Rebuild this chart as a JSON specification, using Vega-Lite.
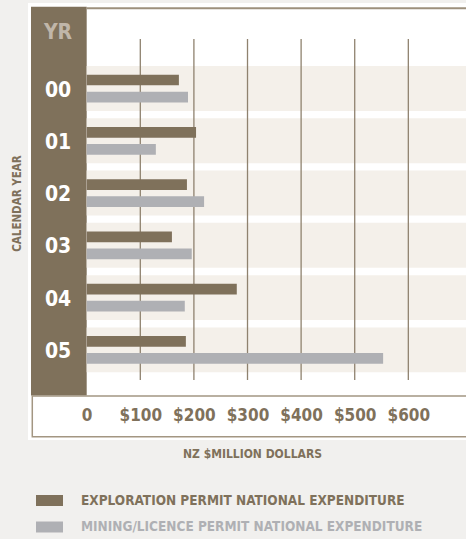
{
  "$schema": "https://vega.github.io/schema/vega-lite/v6.json",
  "autosize": {"type": "none"},
  "padding": {"left": 28, "top": 3, "right": 0, "bottom": 99},
  "width": 438,
  "height": 437,
  "background": "#f1f0ee",
  "config": {"font": "DejaVu Sans Condensed, DejaVu Sans, sans-serif", "view": {"stroke": null}},
  "view": {"fill": "white", "stroke": null},
  "datasets": {
    "expenditure": [
      {"year": "00", "series": "EXPLORATION PERMIT NATIONAL EXPENDITURE", "value": 172},
      {"year": "00", "series": "MINING/LICENCE PERMIT NATIONAL EXPENDITURE", "value": 189},
      {"year": "01", "series": "EXPLORATION PERMIT NATIONAL EXPENDITURE", "value": 204},
      {"year": "01", "series": "MINING/LICENCE PERMIT NATIONAL EXPENDITURE", "value": 129},
      {"year": "02", "series": "EXPLORATION PERMIT NATIONAL EXPENDITURE", "value": 187},
      {"year": "02", "series": "MINING/LICENCE PERMIT NATIONAL EXPENDITURE", "value": 219},
      {"year": "03", "series": "EXPLORATION PERMIT NATIONAL EXPENDITURE", "value": 159},
      {"year": "03", "series": "MINING/LICENCE PERMIT NATIONAL EXPENDITURE", "value": 196},
      {"year": "04", "series": "EXPLORATION PERMIT NATIONAL EXPENDITURE", "value": 280},
      {"year": "04", "series": "MINING/LICENCE PERMIT NATIONAL EXPENDITURE", "value": 183},
      {"year": "05", "series": "EXPLORATION PERMIT NATIONAL EXPENDITURE", "value": 185},
      {"year": "05", "series": "MINING/LICENCE PERMIT NATIONAL EXPENDITURE", "value": 553}
    ],
    "years": [{"year": "00"}, {"year": "01"}, {"year": "02"}, {"year": "03"}, {"year": "04"}, {"year": "05"}],
    "gridValues": [{"v": 100}, {"v": 200}, {"v": 300}, {"v": 400}, {"v": 500}, {"v": 600}],
    "single": [{}]
  },
  "layer": [
    {
      "data": {"name": "single"},
      "mark": {"type": "rect", "color": "#7f715b"},
      "encoding": {
        "x": {"datum": -103.9, "type": "quantitative", "scale": {"domain": [-109.5, 707.6], "nice": false, "zero": false}},
        "x2": {"datum": 0},
        "y": {"datum": "YR", "type": "nominal", "bandPosition": -0.065, "scale": {"type": "band", "domain": ["YR", "00", "01", "02", "03", "04", "05"], "paddingInner": 0, "paddingOuter": 0.68, "align": 0.1}},
        "y2": {"datum": "05", "bandPosition": 1.374}
      }
    },
    {
      "data": {"name": "single"},
      "mark": {"type": "rect", "fill": "white", "stroke": "#a39682", "strokeWidth": 1.5},
      "encoding": {
        "x": {"datum": -101.5, "type": "quantitative"},
        "x2": {"datum": 712},
        "y": {"datum": "05", "type": "nominal", "bandPosition": 1.383},
        "y2": {"datum": "05", "bandPosition": 2.161}
      }
    },
    {
      "data": {"name": "single"},
      "mark": {"type": "rule", "color": "#9d907d", "strokeWidth": 2},
      "encoding": {
        "x": {"datum": 0, "type": "quantitative"},
        "x2": {"datum": 707.6},
        "y": {"datum": "YR", "type": "nominal", "bandPosition": -0.036}
      }
    },
    {
      "data": {"name": "years"},
      "mark": {"type": "bar", "color": "#f4f0ea", "height": {"band": 0.86}},
      "encoding": {
        "x": {"datum": 0, "type": "quantitative"},
        "x2": {"datum": 707.6},
        "y": {"field": "year", "type": "nominal"}
      }
    },
    {
      "data": {"name": "gridValues"},
      "mark": {"type": "rule", "color": "#8f826f", "strokeWidth": 1.3},
      "encoding": {
        "x": {"field": "v", "type": "quantitative"},
        "y": {"datum": "YR", "type": "nominal", "bandPosition": 0.553},
        "y2": {"datum": "05", "bandPosition": 1.077}
      }
    },
    {
      "data": {"name": "expenditure"},
      "mark": {"type": "bar"},
      "encoding": {
        "x": {
          "field": "value", "type": "quantitative",
          "scale": {"domain": [-109.5, 707.6], "nice": false, "zero": false},
          "axis": {
            "title": "NZ $MILLION DOLLARS", "zindex": 2,
            "values": [0, 100, 200, 300, 400, 500, 600],
            "labelExpr": "datum.value == 0 ? '0' : '$' + datum.value",
            "domain": false, "ticks": false, "tickSize": 0, "grid": false,
            "labelPadding": -25, "labelBaseline": "middle",
            "labelFontSize": 17, "labelFontWeight": "bold", "labelColor": "#7f715b",
            "labelFlush": false, "labelOverlap": false,
            "titleFontSize": 12, "titleFontWeight": "bold", "titleColor": "#7f715b",
            "titleX": 224, "titleY": 13, "titleBaseline": "middle", "titleAlign": "center"
          }
        },
        "y": {
          "field": "year", "type": "nominal",
          "scale": {"type": "band", "domain": ["YR", "00", "01", "02", "03", "04", "05"], "paddingInner": 0, "paddingOuter": 0.68, "align": 0.1},
          "axis": {
            "title": "CALENDAR YEAR", "zindex": 2, "labels": false, "ticks": false, "domain": false, "grid": false,
            "titleFontSize": 11.5, "titleFontWeight": "bold", "titleColor": "#7f715b",
            "titleX": -11, "titleY": 200, "titleBaseline": "middle", "titleAlign": "center", "titleAngle": -90
          }
        },
        "yOffset": {"field": "series", "type": "nominal", "scale": {"type": "band", "paddingInner": 0.37, "paddingOuter": 0.72}},
        "color": {
          "field": "series", "type": "nominal",
          "scale": {"domain": ["EXPLORATION PERMIT NATIONAL EXPENDITURE", "MINING/LICENCE PERMIT NATIONAL EXPENDITURE"], "range": ["#7f715b", "#afb0b4"]},
          "legend": {
            "orient": "none", "legendX": 8, "legendY": 484, "title": null, "padding": 0,
            "symbolType": "M-1,-0.407H1V0.407H-1Z", "symbolSize": 729, "symbolStrokeWidth": 0, "symbolOpacity": 1,
            "labelFontSize": 13.5, "labelFontWeight": "bold",
            "labelOffset": 18, "labelLimit": 0, "rowPadding": 6.5,
            "encode": {"labels": {"update": {"fill": {"signal": "datum.value === 'EXPLORATION PERMIT NATIONAL EXPENDITURE' ? '#7f715b' : '#afb0b4'"}}}}
          }
        }
      }
    },
    {
      "data": {"name": "years"},
      "mark": {"type": "text", "color": "white", "fontWeight": "bold", "fontSize": 21, "align": "center", "baseline": "middle", "dy": 2},
      "encoding": {
        "x": {"datum": -53.5, "type": "quantitative"},
        "y": {"field": "year", "type": "nominal"},
        "text": {"field": "year"}
      }
    },
    {
      "data": {"name": "single"},
      "mark": {"type": "text", "color": "#c0b6a9", "fontWeight": "bold", "fontSize": 21, "align": "center", "baseline": "middle", "dy": -3},
      "encoding": {
        "x": {"datum": -53.5, "type": "quantitative"},
        "y": {"datum": "YR", "type": "nominal"},
        "text": {"value": "YR"}
      }
    }
  ]
}
